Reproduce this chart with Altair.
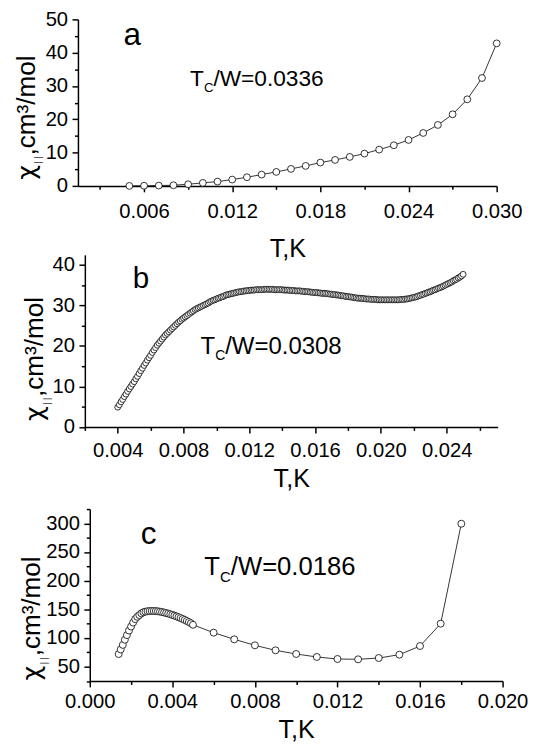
import altair as alt
import pandas as pd

FONT = "Liberation Sans"
W, H = 542, 743

# ---------------- data ----------------
# panel a
a_t = [0.005, 0.006, 0.007, 0.008, 0.009, 0.010, 0.011, 0.012, 0.013, 0.014,
       0.015, 0.016, 0.017, 0.018, 0.019, 0.020, 0.021, 0.022, 0.023, 0.024,
       0.025, 0.026, 0.027, 0.028, 0.029, 0.030]
a_chi = [0.0, 0.05, 0.1, 0.2, 0.5, 0.9, 1.3, 1.9, 2.6, 3.4,
         4.2, 5.1, 6.0, 7.0, 7.8, 8.7, 9.7, 10.9, 12.2, 13.8,
         15.9, 18.3, 21.5, 26.0, 32.4, 42.8]

# panel b
b_t = [
    0.0040, 0.0041, 0.0042, 0.0043, 0.0044, 0.0045, 0.0046, 0.0047, 0.0048, 0.0049,
    0.0050, 0.0051, 0.0052, 0.0053, 0.0054, 0.0055, 0.0056, 0.0057, 0.0058, 0.0059,
    0.0060, 0.0061, 0.0062, 0.0063, 0.0064, 0.0065, 0.0066, 0.0067, 0.0068, 0.0069,
    0.0070, 0.0071, 0.0072, 0.0073, 0.0074, 0.0075, 0.0076, 0.0077, 0.0078, 0.0079,
    0.0080, 0.0081, 0.0082, 0.0083, 0.0084, 0.0085, 0.0086, 0.0087, 0.0088, 0.0089,
    0.0090, 0.0091, 0.0092, 0.0093, 0.0094, 0.0095, 0.0096, 0.0097, 0.0098, 0.0099,
    0.0100, 0.0101, 0.0102, 0.0103, 0.0104, 0.0105, 0.0106, 0.0107, 0.0108, 0.0109,
    0.0110, 0.0111, 0.0112, 0.0113, 0.0114, 0.0115, 0.0116, 0.0117, 0.0118, 0.0119,
    0.0120, 0.0121, 0.0122, 0.0123, 0.0124, 0.0125, 0.0126, 0.0127, 0.0128, 0.0129,
    0.0130, 0.0131, 0.0132, 0.0133, 0.0134, 0.0135, 0.0136, 0.0137, 0.0138, 0.0139,
    0.0140, 0.0141, 0.0142, 0.0143, 0.0144, 0.0145, 0.0146, 0.0147, 0.0148, 0.0149,
    0.0150, 0.0151, 0.0152, 0.0153, 0.0154, 0.0155, 0.0156, 0.0157, 0.0158, 0.0159,
    0.0160, 0.0161, 0.0162, 0.0163, 0.0164, 0.0165, 0.0166, 0.0167, 0.0168, 0.0169,
    0.0170, 0.0171, 0.0172, 0.0173, 0.0174, 0.0175, 0.0176, 0.0177, 0.0178, 0.0179,
    0.0180, 0.0181, 0.0182, 0.0183, 0.0184, 0.0185, 0.0186, 0.0187, 0.0188, 0.0189,
    0.0190, 0.0191, 0.0192, 0.0193, 0.0194, 0.0195, 0.0196, 0.0197, 0.0198, 0.0199,
    0.0200, 0.0201, 0.0202, 0.0203, 0.0204, 0.0205, 0.0206, 0.0207, 0.0208, 0.0209,
    0.0210, 0.0211, 0.0212, 0.0213, 0.0214, 0.0215, 0.0216, 0.0217, 0.0218, 0.0219,
    0.0220, 0.0221, 0.0222, 0.0223, 0.0224, 0.0225, 0.0226, 0.0227, 0.0228, 0.0229,
    0.0230, 0.0231, 0.0232, 0.0233, 0.0234, 0.0235, 0.0236, 0.0237, 0.0238, 0.0239,
    0.0240, 0.0241, 0.0242, 0.0243, 0.0244, 0.0245, 0.0246, 0.0247, 0.0248, 0.0249,
    0.0250]
b_chi = [
    4.9, 5.5, 6.2, 6.8, 7.5, 8.1, 8.8, 9.4, 10.0, 10.6,
    11.2, 11.9, 12.5, 13.2, 13.9, 14.5, 15.2, 15.8, 16.5, 17.1,
    17.7, 18.4, 19.0, 19.6, 20.2, 20.7, 21.2, 21.7, 22.2, 22.7,
    23.1, 23.5, 23.9, 24.3, 24.7, 25.1, 25.5, 25.9, 26.2, 26.6,
    26.9, 27.2, 27.5, 27.8, 28.1, 28.4, 28.7, 29.0, 29.2, 29.4,
    29.6, 29.8, 30.0, 30.2, 30.4, 30.6, 30.9, 31.1, 31.3, 31.4,
    31.6, 31.8, 31.9, 32.1, 32.2, 32.4, 32.6, 32.7, 32.8, 32.9,
    33.0, 33.1, 33.2, 33.3, 33.4, 33.4, 33.5, 33.6, 33.6, 33.7,
    33.7, 33.8, 33.8, 33.8, 33.9, 33.9, 33.9, 33.9, 33.9, 34.0,
    34.0, 34.0, 34.0, 34.0, 34.0, 33.9, 33.9, 33.9, 33.9, 33.9,
    33.9, 33.8, 33.8, 33.8, 33.8, 33.7, 33.7, 33.7, 33.6, 33.6,
    33.6, 33.6, 33.5, 33.5, 33.4, 33.4, 33.4, 33.3, 33.3, 33.2,
    33.2, 33.2, 33.1, 33.1, 33.0, 33.0, 33.0, 32.9, 32.9, 32.8,
    32.8, 32.7, 32.7, 32.6, 32.6, 32.5, 32.4, 32.4, 32.3, 32.2,
    32.2, 32.1, 32.1, 32.0, 31.9, 31.9, 31.8, 31.8, 31.8, 31.7,
    31.7, 31.6, 31.6, 31.6, 31.5, 31.5, 31.5, 31.5, 31.4, 31.4,
    31.4, 31.4, 31.4, 31.4, 31.4, 31.4, 31.4, 31.4, 31.4, 31.4,
    31.4, 31.4, 31.5, 31.5, 31.5, 31.6, 31.6, 31.7, 31.8, 31.9,
    32.0, 32.1, 32.2, 32.4, 32.5, 32.7, 32.8, 33.0, 33.1, 33.3,
    33.4, 33.6, 33.8, 33.9, 34.1, 34.3, 34.4, 34.6, 34.8, 35.0,
    35.2, 35.4, 35.6, 35.8, 36.1, 36.3, 36.5, 36.8, 37.0, 37.3,
    37.7]

# panel c
c_t = [0.0014, 0.0015, 0.0016, 0.0017, 0.0018, 0.0019, 0.0020, 0.0021, 0.0022, 0.0023,
       0.0024, 0.0025, 0.0026, 0.0027, 0.0028, 0.0029, 0.0030, 0.0031, 0.0032, 0.0033,
       0.0034, 0.0035, 0.0036, 0.0037, 0.0038, 0.0039, 0.0040, 0.0041, 0.0042, 0.0043,
       0.0044, 0.0045, 0.0046, 0.0047, 0.0048, 0.0049,
       0.005, 0.006, 0.007, 0.008, 0.009, 0.010, 0.011, 0.012, 0.013, 0.014,
       0.015, 0.016, 0.017, 0.018]
c_chi = [72, 80, 88, 97, 105, 113, 120, 127, 133, 137,
         140, 143, 145, 146, 146.8, 147, 147.2, 147.2, 147, 146.6,
         146, 145.3, 144.5, 143.6, 142.6, 141.5, 140.3, 139, 137.7, 136.3,
         134.8, 133.2, 131.5, 129.7, 127.8, 125.8,
         123.0, 109.3, 97.7, 87.2, 78.5, 72.1, 66.9, 63.4, 62.8, 65.1,
         70.9, 86.0, 125.0, 299.4]

# tick values
a_xmajor = [0.006, 0.012, 0.018, 0.024, 0.030]
a_xminor = [0.003, 0.009, 0.015, 0.021, 0.027]
a_ymajor = [0, 10, 20, 30, 40, 50]
a_yminor = [5, 15, 25, 35, 45]
b_xmajor = [0.004, 0.008, 0.012, 0.016, 0.020, 0.024]
b_xminor = [0.002, 0.006, 0.010, 0.014, 0.018, 0.022, 0.026]
b_ymajor = [0, 10, 20, 30, 40]
b_yminor = [5, 15, 25, 35]
c_xmajor = [0.000, 0.004, 0.008, 0.012, 0.016, 0.020]
c_xminor = [0.002, 0.006, 0.010, 0.014, 0.018]
c_ymajor = [50, 100, 150, 200, 250, 300]
c_yminor = [25, 75, 125, 175, 225, 275, 325]

# annotations (data coordinates)
letters = ["a", "b", "c"]
letter_t = [0.00519, 0.005415, 0.002854]
letter_chi = [42.3, 34.3, 263.6]
tc_values = ["/W=0.0336", "/W=0.0308", "/W=0.0186"]
tc_t = [0.009125, 0.009027, 0.00555]
tc_chi = [30.0, 18.1, 210.0]

AX = dict(domainColor="black", domainWidth=1.5, tickColor="black", tickWidth=1.5,
          labelFont=FONT, labelFontSize=20.5, labelColor="black",
          labelFlush=False, labelOverlap=False, grid=False)


def panel(t, chi, xdom, xrng, ydom, yrng, xmaj, xmin, ymaj, ymin,
          lab_pad, title_y, yt_x, yt_y, i, letter_fs, tc_fs, pt_size):
    df = pd.DataFrame({"t": t, "chi": chi})
    sx = alt.Scale(domain=xdom, range=xrng, nice=False, zero=False)
    sy = alt.Scale(domain=ydom, range=yrng, nice=False, zero=False)
    xoff = yrng[0] - H
    yoff = -xrng[0]
    ax_x = alt.Axis(orient="bottom", offset=xoff, values=xmaj, format=".3f",
                    tickSize=6, labelPadding=lab_pad, title="T,K", titleY=title_y,
                    titleBaseline="alphabetic", titleFont=FONT, titleFontSize=25.5,
                    titleFontWeight="normal", titleColor="black", **AX)
    ax_y = alt.Axis(orient="left", offset=yoff, values=ymaj, format="d",
                    tickSize=6, labelPadding=4.5, title=None, **AX)
    X = alt.X("t:Q", scale=sx, axis=ax_x)
    Y = alt.Y("chi:Q", scale=sy, axis=ax_y)

    line = alt.Chart(df).mark_line(color="black", strokeWidth=0.8).encode(x=X, y=Y)
    pts = alt.Chart(df).mark_point(shape="circle", filled=True, fill="white",
                                   stroke="black", strokeWidth=0.8, opacity=1,
                                   size=pt_size).encode(x=X, y=Y)
    ldf = pd.DataFrame({"t": [letter_t[i]], "chi": [letter_chi[i]], "s": [letters[i]]})
    let = alt.Chart(ldf).mark_text(font=FONT, fontSize=letter_fs, align="center",
                                   baseline="alphabetic", color="black").encode(
        x=X, y=Y, text="s:N")
    tdf = pd.DataFrame({"t": [tc_t[i]], "chi": [tc_chi[i]],
                        "a": ["T"], "b": ["C"], "c": [tc_values[i]]})
    c_dx = 0.615 * tc_fs
    rest_dx = c_dx + 0.42 * tc_fs
    tT = alt.Chart(tdf).mark_text(font=FONT, fontSize=tc_fs, align="left",
                                  baseline="alphabetic", color="black").encode(
        x=X, y=Y, text="a:N")
    tC = alt.Chart(tdf).mark_text(font=FONT, fontSize=tc_fs * 0.58, align="left",
                                  baseline="alphabetic", color="black",
                                  dx=c_dx, dy=tc_fs * 0.28).encode(x=X, y=Y, text="b:N")
    tR = alt.Chart(tdf).mark_text(font=FONT, fontSize=tc_fs, align="left",
                                  baseline="alphabetic", color="black",
                                  dx=rest_dx).encode(x=X, y=Y, text="c:N")
    ydf = pd.DataFrame({"p1": ["χ"], "p2": ["| |"], "p3": [",cm³/mol"]})
    y1 = alt.Chart(ydf).mark_text(font="DejaVu Sans", fontSize=26, angle=270, align="left",
                                  baseline="alphabetic", color="black").encode(
        x=alt.value(yt_x), y=alt.value(yt_y), text="p1:N")
    y2 = alt.Chart(ydf).mark_text(font=FONT, fontSize=9, angle=270, align="left",
                                  baseline="alphabetic", color="#333333",
                                  dx=16.5, dy=7).encode(
        x=alt.value(yt_x), y=alt.value(yt_y), text="p2:N")
    y3 = alt.Chart(ydf).mark_text(font=FONT, fontSize=26.5, angle=270, align="left",
                                  baseline="alphabetic", color="black",
                                  dx=24.5).encode(
        x=alt.value(yt_x), y=alt.value(yt_y), text="p3:N")
    main = alt.layer(line, pts, let, tT, tC, tR, y1, y2, y3)

    sx2 = alt.Scale(domain=xdom, range=xrng, nice=False, zero=False)
    sy2 = alt.Scale(domain=ydom, range=yrng, nice=False, zero=False)
    mx = alt.Axis(orient="bottom", offset=xoff, values=xmin, tickSize=3.5,
                  labels=False, domain=False, title=None, grid=False,
                  tickColor="black", tickWidth=1.5)
    my = alt.Axis(orient="left", offset=yoff, values=ymin, tickSize=3.5,
                  labels=False, domain=False, title=None, grid=False,
                  tickColor="black", tickWidth=1.5)
    minor = alt.Chart(df).mark_point(opacity=0).encode(
        x=alt.X("t:Q", scale=sx2, axis=mx), y=alt.Y("chi:Q", scale=sy2, axis=my))
    return main, minor


pa = panel(a_t, a_chi, [0.0015, 0.030], [71, 496], [0, 50], [175, 6],
           a_xmajor, a_xminor, a_ymajor, a_yminor,
           10.5, 72, 27, 168.7, 0, 32, 23, 48)
pb = panel(b_t, b_chi, [0.002, 0.0271], [78, 497], [0, 42.5], [419.7, 245],
           b_xmajor, b_xminor, b_ymajor, b_yminor,
           8.2, 60.6, 35.8, 413.7, 1, 30, 24.3, 36)
pc = panel(c_t, c_chi, [0.0, 0.020], [83, 502], [25, 325], [677.5, 503],
           c_xmajor, c_xminor, c_ymajor, c_yminor,
           4.8, 57.8, 32.3, 677, 2, 32, 26, 50)

chart = alt.layer(pa[0], pa[1], pb[0], pb[1], pc[0], pc[1]).resolve_scale(
    x="independent", y="independent"
).properties(
    width=W, height=H, padding=0,
    autosize=alt.AutoSizeParams(type="none"),
    background="white",
).configure_view(stroke=None)

chart.save("out.html", embed_options={"renderer": "svg", "actions": False})
